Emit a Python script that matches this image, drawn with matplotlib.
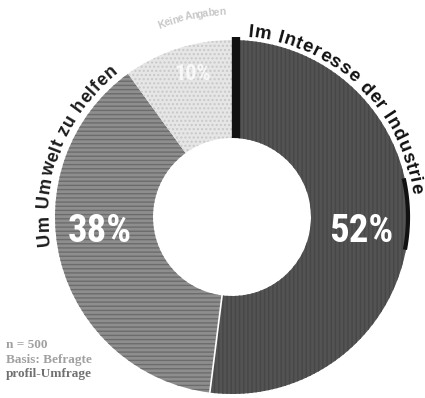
import numpy as np
import matplotlib
matplotlib.use("Agg")
import matplotlib.pyplot as plt
from matplotlib.font_manager import FontProperties

# --- Data ---
shares = [52, 38, 10]
share_labels = ["52%", "38%", "10%"]
segment_names = ["Im Interesse der Industrie", "Um Umwelt zu helfen", "Keine Angaben"]
note_lines = ["n = 500", "Basis: Befragte", "profil-Umfrage"]

# --- Style ---
FACE = ["#535353", "#8e8e8e", "#e6e6e6"]
HATCH_COLOR = ["#474747", "#6c6c6c", "#c8c8c8"]
HATCHES = ["||||", "----", "...."]
CONDENSED = ["Roboto Condensed", "Liberation Sans Narrow", "Liberation Sans", "DejaVu Sans"]
ARC_FAMILY = ["Liberation Sans", "DejaVu Sans"]

W, H = 425, 398
CX, CY = 232, H - 217
R_OUT, R_IN = 177, 79

plt.rcParams["hatch.linewidth"] = 1.0

fig = plt.figure(figsize=(W / 100, H / 100), dpi=100)
ax = fig.add_axes([0, 0, 1, 1])

wedges, _ = ax.pie(shares, startangle=90, counterclock=False, center=(CX, CY),
                   radius=R_OUT, wedgeprops=dict(width=R_OUT - R_IN, linewidth=0))
for w, fc, hc, ht in zip(wedges, FACE, HATCH_COLOR, HATCHES):
    w.set_facecolor(fc)
    w.set_edgecolor(hc)
    w.set_hatch(ht)
    w.set_linewidth(0)

ax.set_xlim(0, W)
ax.set_ylim(0, H)
ax.set_aspect("equal")
ax.axis("off")


def polar(ang, r):
    """ang in degrees clockwise from top."""
    a = np.radians(ang)
    return CX + r * np.sin(a), CY + r * np.cos(a)


# boundary accents like in the print
cum = np.cumsum([0] + shares) / sum(shares) * 360
x0, y0 = polar(0, R_IN)
x1, y1 = polar(0, R_OUT + 3)
ax.plot([x0 + 4, x1 + 4], [y0, y1], color="#111111", lw=6, solid_capstyle="butt")
xa, ya = polar(cum[1], R_IN)
xb, yb = polar(cum[1], R_OUT + 2)
ax.plot([xa, xb], [ya, yb], color="white", lw=1.2)
arc = np.linspace(78, 100, 30)
ax.plot(*polar(arc, R_OUT - 1), color="#111111", lw=3)

# percentage labels
label_pos = [(361, H - 231), (100, H - 232), (193, H - 74)]
label_size = [28, 28, 16]
label_col = ["white", "white", "#f8f8f8"]
for (lx, ly), fs, txt, c in zip(label_pos, label_size, share_labels, label_col):
    ax.text(lx, ly, txt, ha="center", va="center", color=c, fontsize=fs,
            fontweight="bold", family=CONDENSED)

fig.canvas.draw()
renderer = fig.canvas.get_renderer()


def arc_text(s, r, a0, a1, size, color, family=ARC_FAMILY):
    prop = FontProperties(family=family, size=size, weight="bold")

    def width(t):
        return renderer.get_text_width_height_descent(t, prop, ismath=False)[0]

    def adv(t):
        return width(t + "l") - width("l") if t else 0.0

    total = adv(s)
    for i, ch in enumerate(s):
        if ch == " ":
            continue
        centre = (adv(s[:i]) + adv(s[:i + 1])) / 2
        ang = a0 + centre / total * (a1 - a0)
        x, y = polar(ang, r)
        ax.text(x, y, ch, fontproperties=prop, color=color, rotation=-ang,
                rotation_mode="anchor", ha="center", va="baseline")


arc_text(segment_names[0], 181, 5, 83, 13.5, "#111111")
arc_text(segment_names[1], 184, 261, 322, 13, "#1c1c1c")
arc_text(segment_names[2], 202, -21, -2, 7.5, "#c8c8c8")

# source note, bottom left
note_col = ["#a0a0a0", "#a0a0a0", "#707070"]
note_y = [345, 360, 374]
for line, c, y in zip(note_lines, note_col, note_y):
    ax.text(6, H - y, line, fontsize=9.5, color=c,
            family="Liberation Serif", fontweight="bold", va="center")

fig.savefig("out.png", dpi=100)
